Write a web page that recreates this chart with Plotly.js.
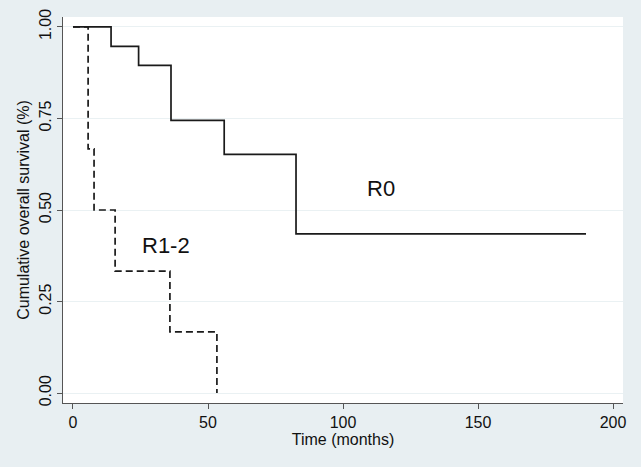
<!DOCTYPE html>
<html>
<head>
<meta charset="utf-8">
<script src="https://cdn.plot.ly/plotly-3.0.1.min.js"></script>
<style>html,body{margin:0;padding:0;background:#e8eff2;}#chart{width:641px;height:467px;}</style>
</head>
<body>
<div id="chart"></div>
<script>
// Kaplan-Meier step data
const r0Time = [0, 14.1, 24.3, 36.3, 56, 82.6, 190];
const r0Surv = [1.0, 0.947, 0.895, 0.745, 0.652, 0.435, 0.435];
const r12Time = [0, 5.6, 7.8, 15.6, 35.9, 53.3];
const r12Surv = [1.0, 0.667, 0.5, 0.333, 0.167, 0.0];
const xTicks = [0, 50, 100, 150, 200];
const yTicks = [0, 0.25, 0.5, 0.75, 1];
const yTickText = ["0.00", "0.25", "0.50", "0.75", "1.00"];
const labels = [{name: "R0", x: 114, y: 0.56}, {name: "R1-2", x: 34.4, y: 0.404}];

const font = {family: "Liberation Sans, Arial, sans-serif", color: "#111", size: 16};

const traces = [
  {x: r0Time, y: r0Surv, mode: "lines", line: {shape: "hv", color: "#1a1a1a", width: 1.7}, name: "R0", hoverinfo: "skip"},
  {x: r12Time, y: r12Surv, mode: "lines", line: {shape: "hv", color: "#1a1a1a", width: 1.7, dash: "7px,4px"}, name: "R1-2", hoverinfo: "skip"}
];

const layout = {
  width: 641, height: 467,
  margin: {l: 63, r: 18, t: 17, b: 64},
  paper_bgcolor: "#e8eff2",
  plot_bgcolor: "#ffffff",
  showlegend: false,
  font: font,
  xaxis: {
    range: [-3.7, 203.7], tickvals: xTicks, ticks: "outside", ticklen: 5, tickcolor: "#555",
    showline: true, linecolor: "#555", linewidth: 1, showgrid: false, zeroline: false,
    tickfont: {size: 16, color: "#111"},
    title: {text: "Time (months)", font: {size: 16, color: "#111"}, standoff: 0}
  },
  yaxis: {
    range: [-0.027, 1.027], tickvals: yTicks, ticktext: yTickText, tickangle: -90,
    ticks: "outside", ticklen: 5, tickcolor: "#555",
    showline: true, linecolor: "#555", linewidth: 1, showgrid: true, gridcolor: "#eaf1f3", gridwidth: 1,
    zeroline: false, tickfont: {size: 16, color: "#111"},
    title: {text: "Cumulative overall survival (%)", font: {size: 16, color: "#111"}, standoff: 2}
  },
  annotations: labels.map(l => ({x: l.x, y: l.y, text: l.name, showarrow: false, font: {size: 22, color: "#111"}}))
};

Plotly.newPlot("chart", traces, layout, {displayModeBar: false, staticPlot: true});
</script>
</body>
</html>
